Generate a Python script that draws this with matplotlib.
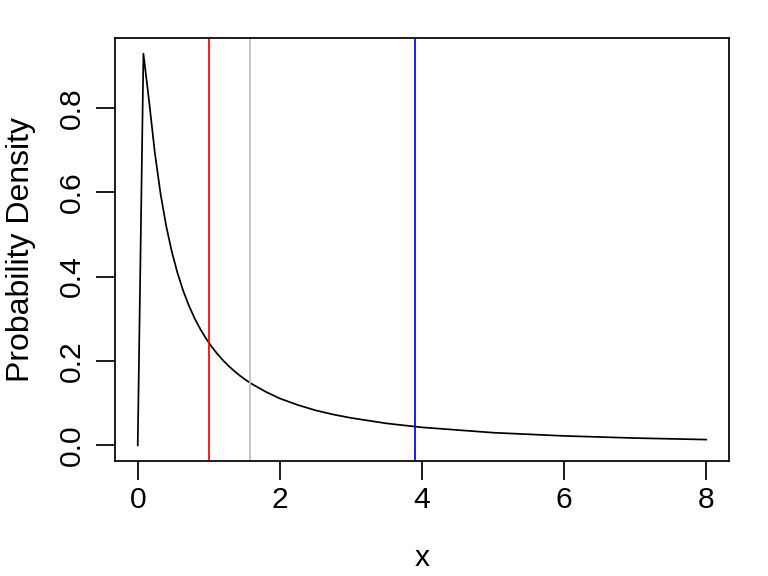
import matplotlib
matplotlib.use('Agg')
import matplotlib.pyplot as plt

# density curve, values
x_vals = [0.0, 0.08, 0.16, 0.24, 0.32, 0.4, 0.48, 0.56, 0.64, 0.72, 0.8, 0.88,
          0.96, 1.04, 1.12, 1.2, 1.28, 1.36, 1.44, 1.52, 1.6, 1.8, 2.0, 2.25,
          2.5, 2.75, 3.0, 3.5, 4.0, 5.0, 6.0, 7.0, 8.0]
density = [0.0, 0.928, 0.815, 0.694, 0.597, 0.520, 0.4585, 0.408, 0.366,
           0.331, 0.301, 0.2756, 0.2533, 0.2338, 0.2167, 0.2015, 0.1879,
           0.1758, 0.1648, 0.1549, 0.146, 0.127, 0.111, 0.0957, 0.083,
           0.0731, 0.065, 0.052, 0.0426, 0.030, 0.0223, 0.0172, 0.0136]

# vertical reference lines
vline_pos = [1.0, 1.573, 3.895]
vline_cols = ['#FF0000', '#BEBEBE', '#0000FF']

xticks = [0, 2, 4, 6, 8]
yticks = [0.0, 0.2, 0.4, 0.6, 0.8]

plt.rcParams['font.family'] = ['Liberation Sans', 'DejaVu Sans']

W, H = 768, 576
fig = plt.figure(figsize=(W / 96, H / 96), dpi=96)
ax = fig.add_axes([115 / W, 1 - 461 / H, (729 - 115) / W, (461 - 38) / H])

ax.plot(x_vals, density, color='black', lw=1.3)
for p, c in zip(vline_pos, vline_cols):
    ax.axvline(p, color=c, lw=1.3)

# R style 4% axis extension
xr = max(x_vals) - min(x_vals)
ax.set_xlim(min(x_vals) - 0.04 * xr, max(x_vals) + 0.04 * xr)
yr = max(density) - min(density)
ax.set_ylim(min(density) - 0.04 * yr, max(density) + 0.04 * yr)

ax.set_xticks(xticks)
ax.set_xticklabels([str(t) for t in xticks])
ax.set_yticks(yticks)
ax.set_yticklabels(['%.1f' % t for t in yticks], rotation=90, va='center')

ax.tick_params(axis='both', direction='out', length=14, width=1.3,
               labelsize=22.5, color='black')
ax.tick_params(axis='x', pad=5)
ax.tick_params(axis='y', pad=8)
for s in ax.spines.values():
    s.set_linewidth(1.3)

fig.text(21 / W, 1 - 250 / H, 'Probability Density', rotation=90,
         ha='center', va='center', fontsize=24)
fig.text(422 / W, 1 - 558 / H, 'x', ha='center', va='center', fontsize=22.5)

fig.savefig('out.png', dpi=96)
